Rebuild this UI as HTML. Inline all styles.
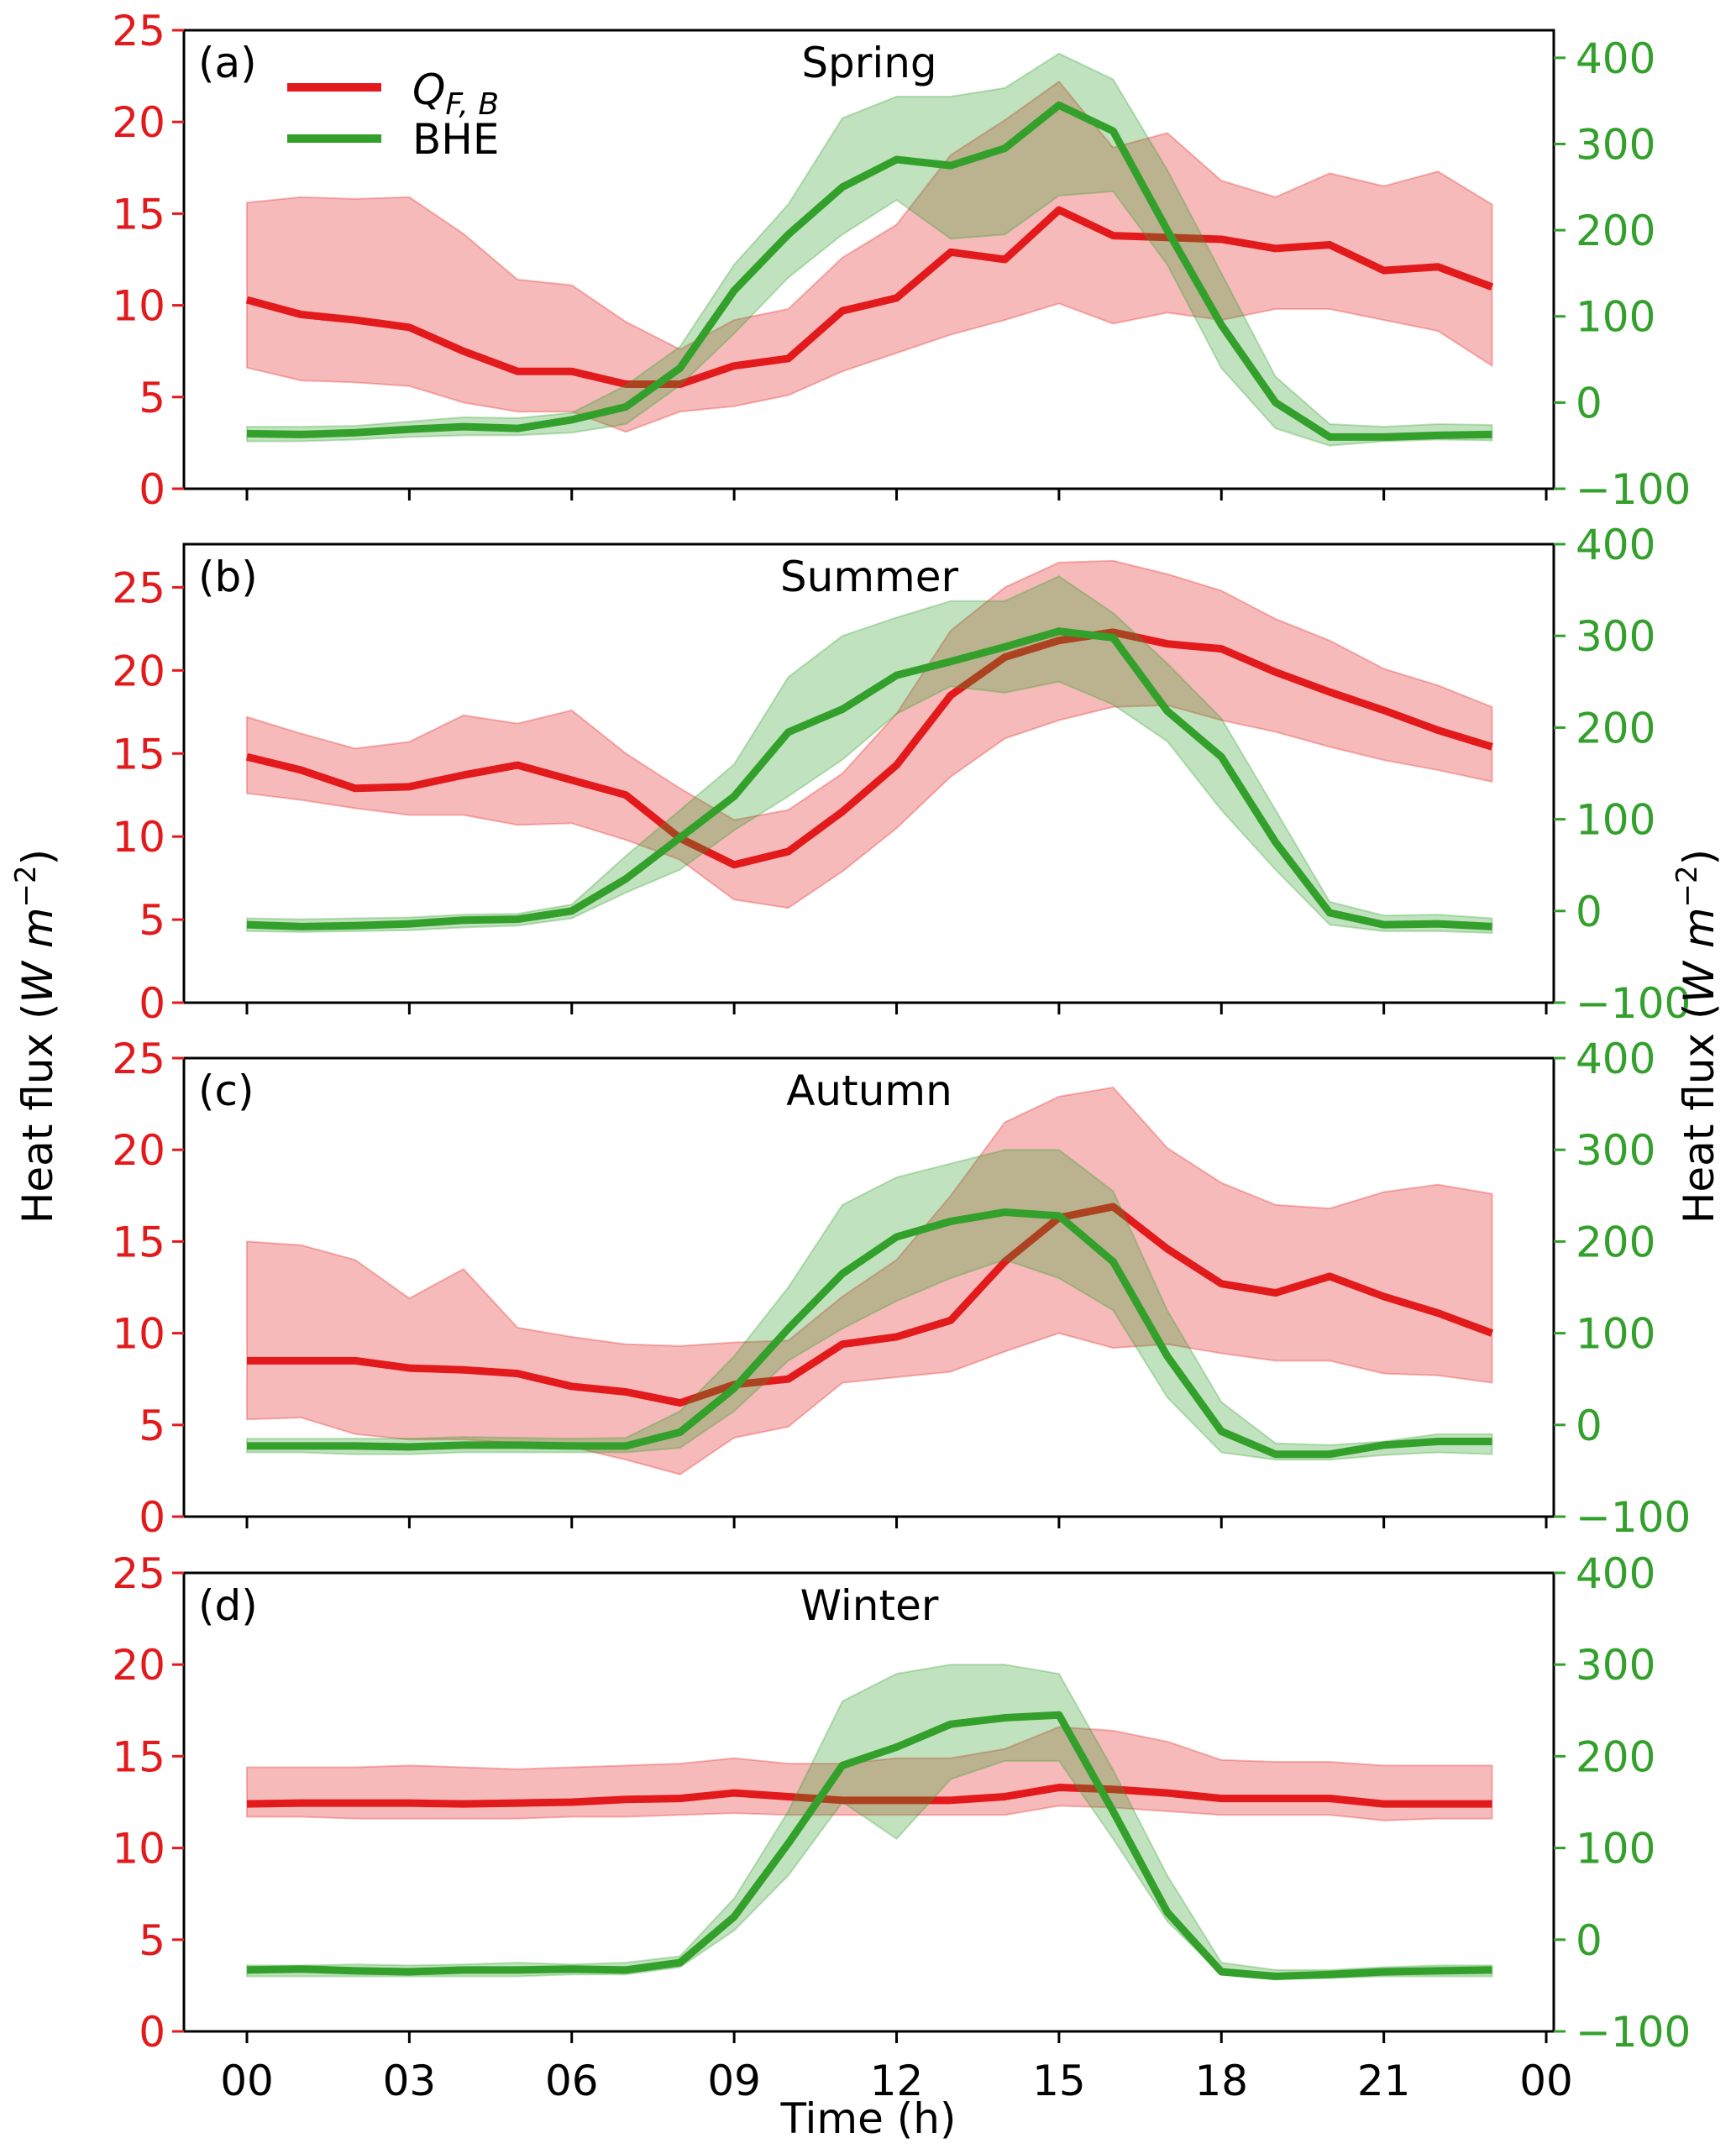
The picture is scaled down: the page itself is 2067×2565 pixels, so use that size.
<!DOCTYPE html>
<html><head><meta charset="utf-8"><style>
html,body{margin:0;padding:0;background:#fff}
svg{display:block;font-family:"DejaVu Sans","Liberation Sans",sans-serif}
</style></head><body>
<svg id="chart" width="2067" height="2565" viewBox="0 0 2067 2565" xmlns="http://www.w3.org/2000/svg">
<g id="plots"></g>
<text x="1034" y="2540" font-size="50" text-anchor="middle">Time (h)</text>
<text transform="translate(62,1234) rotate(-90)" font-size="50" text-anchor="middle">Heat flux (<tspan font-style="italic">W m</tspan><tspan font-size="34" dy="-20">−2</tspan><tspan dy="20">)</tspan></text>
<text transform="translate(2040,1234) rotate(-90)" font-size="50" text-anchor="middle">Heat flux (<tspan font-style="italic">W m</tspan><tspan font-size="34" dy="-20">−2</tspan><tspan dy="20">)</tspan></text>
</svg>
<script>
const hours = [0,1,2,3,4,5,6,7,8,9,10,11,12,13,14,15,16,17,18,19,20,21,22,23];
const seasons = ["Spring","Summer","Autumn","Winter"];
const panelLetters = ["(a)","(b)","(c)","(d)"];
const leftMax = [25,27.6,25,25];
const rightMax = [432,400,400,400];
const leftTicks = [0,5,10,15,20,25];
const rightTicks = [-100,0,100,200,300,400];
const xTickLabels = ["00","03","06","09","12","15","18","21","00"];

const qfMean = [
[10.3,9.5,9.2,8.8,7.5,6.4,6.4,5.7,5.7,6.7,7.1,9.7,10.4,12.9,12.5,15.2,13.8,13.7,13.6,13.1,13.3,11.9,12.1,11.0],
[14.8,14.0,12.9,13.0,13.7,14.3,13.4,12.5,9.9,8.3,9.1,11.5,14.3,18.5,20.8,21.8,22.3,21.6,21.3,19.9,18.7,17.6,16.4,15.4],
[8.5,8.5,8.5,8.1,8.0,7.8,7.1,6.8,6.2,7.2,7.5,9.4,9.8,10.7,13.9,16.3,16.9,14.6,12.7,12.2,13.1,12.0,11.1,10.0],
[12.4,12.45,12.45,12.45,12.4,12.45,12.5,12.65,12.7,13.0,12.8,12.6,12.6,12.6,12.8,13.3,13.2,13.0,12.7,12.7,12.7,12.4,12.4,12.4]];
const qfUpper = [
[15.6,15.9,15.8,15.9,13.9,11.4,11.1,9.1,7.6,9.2,9.8,12.6,14.4,18.2,20.1,22.2,18.6,19.4,16.8,15.9,17.2,16.5,17.3,15.5],
[17.2,16.2,15.3,15.7,17.3,16.8,17.6,15.0,12.9,11.0,11.6,13.8,17.4,22.4,25.0,26.5,26.6,25.8,24.8,23.1,21.8,20.1,19.1,17.8],
[15.0,14.8,14.0,11.9,13.5,10.3,9.8,9.4,9.3,9.5,9.6,12.0,14.0,17.5,21.5,22.9,23.4,20.1,18.2,17.0,16.8,17.7,18.1,17.6],
[14.4,14.4,14.4,14.5,14.4,14.3,14.4,14.5,14.6,14.9,14.6,14.6,14.9,14.9,15.4,16.6,16.4,15.8,14.8,14.7,14.7,14.5,14.5,14.5]];
const qfLower = [
[6.6,5.9,5.8,5.6,4.7,4.2,4.2,3.1,4.2,4.5,5.1,6.4,7.4,8.4,9.2,10.1,9.0,9.6,9.2,9.8,9.8,9.2,8.6,6.7],
[12.6,12.2,11.7,11.3,11.3,10.7,10.8,9.8,8.6,6.2,5.7,7.9,10.5,13.6,15.9,17.0,17.8,17.9,17.0,16.3,15.4,14.6,14.0,13.3],
[5.3,5.4,4.5,4.2,4.2,4.0,3.8,3.1,2.3,4.3,4.9,7.3,7.6,7.9,9.0,10.0,9.2,9.4,8.9,8.5,8.5,7.8,7.7,7.3],
[11.7,11.7,11.6,11.6,11.6,11.6,11.7,11.7,11.8,11.9,11.8,11.8,11.8,11.8,11.8,12.3,12.2,12.0,11.8,11.8,11.8,11.5,11.6,11.6]];
const bheMean = [
[-36,-37,-35,-31,-28,-30,-20,-5,40,130,195,250,282,275,295,345,315,200,90,0,-40,-40,-38,-37],
[-15,-17,-16,-14,-10,-9,0,35,80,125,195,220,257,272,288,305,298,218,168,75,-2,-15,-14,-17],
[-23,-23,-23,-24,-22,-22,-23,-23,-8,40,105,165,205,222,232,228,178,75,-7,-32,-32,-22,-18,-18],
[-33,-32,-34,-35,-33,-33,-32,-33,-25,25,105,190,210,235,242,245,140,30,-35,-40,-38,-35,-34,-33]];
const bheUpper = [
[-28,-28,-27,-22,-17,-18,-12,20,65,160,230,330,355,355,365,405,375,270,150,30,-25,-28,-25,-26],
[-8,-9,-8,-7,-4,-3,7,60,110,160,255,300,320,338,338,365,325,270,210,110,10,-5,-4,-8],
[-15,-15,-15,-15,-13,-14,-15,-14,15,75,150,240,270,285,300,300,255,125,25,-20,-22,-18,-10,-10],
[-28,-28,-27,-28,-27,-25,-27,-25,-18,45,140,260,290,300,300,290,185,70,-25,-33,-33,-30,-28,-28]];
const bheLower = [
[-45,-45,-43,-40,-38,-38,-35,-25,20,80,145,195,235,190,195,240,245,160,40,-30,-50,-45,-43,-44],
[-22,-23,-22,-21,-18,-16,-8,20,45,88,125,165,215,245,238,250,225,185,110,45,-15,-22,-22,-24],
[-30,-30,-32,-32,-30,-30,-30,-30,-25,15,70,105,135,160,180,160,125,30,-30,-38,-38,-33,-30,-32],
[-40,-40,-40,-40,-40,-40,-38,-38,-30,10,70,150,110,175,195,195,110,20,-38,-42,-42,-40,-40,-40]];

const NS="http://www.w3.org/2000/svg";
const RED="#e31a1c", GREEN="#33a02c";
const L=219, R=1850, H=546;
const tops=[36,648,1260,1873];
const xs = h => 294 + h*64.46;
function mk(tag, attrs, parent){const e=document.createElementNS(NS,tag);for(const k in attrs)e.setAttribute(k,attrs[k]);parent.appendChild(e);return e;}
const root=document.getElementById('plots');
for(let p=0;p<4;p++){
  const top=tops[p], bot=top+H;
  const yl = v => bot - v/leftMax[p]*H;
  const yr = v => bot - (v+100)/(rightMax[p]+100)*H;
  const g=mk('g',{},root);
  
  
  const band=(up,lo,f)=>{let d='M'+hours.map(h=>xs(h)+','+f(up[h])).join(' L');d+=' L'+hours.slice().reverse().map(h=>xs(h)+','+f(lo[h])).join(' L')+'Z';return d;};
  const line=(arr,f)=>'M'+hours.map(h=>xs(h)+','+f(arr[h])).join(' L');
  const rb=mk('path',{d:band(qfUpper[p],qfLower[p],yl),fill:RED,'fill-opacity':0.3,stroke:RED,'stroke-opacity':0.3,'stroke-width':2},g);
  
  
  const rl=mk('path',{d:line(qfMean[p],yl),fill:'none',stroke:RED,'stroke-width':9,'stroke-linejoin':'round'},g);
  
  
  const gb=mk('path',{d:band(bheUpper[p],bheLower[p],yr),fill:GREEN,'fill-opacity':0.3,stroke:GREEN,'stroke-opacity':0.3,'stroke-width':2},g);
  
  
  const gl=mk('path',{d:line(bheMean[p],yr),fill:'none',stroke:GREEN,'stroke-width':9,'stroke-linejoin':'round'},g);
  
  
  const fr=mk('rect',{x:L,y:top,width:R-L,height:H,fill:'none',stroke:'#000','stroke-width':3},g);
  
  
  for(const v of leftTicks){const y=yl(v);
    mk('line',{x1:L-14,x2:L,y1:y,y2:y,stroke:RED,'stroke-width':3},g);
    const t=mk('text',{x:L-22,y:y+18,'font-size':50,fill:RED,'text-anchor':'end'},g);t.textContent=v;
    
    }
  for(const v of rightTicks){const y=yr(v);
    mk('line',{x1:R,x2:R+14,y1:y,y2:y,stroke:GREEN,'stroke-width':3},g);
    const t=mk('text',{x:R+26,y:y+18,'font-size':50,fill:GREEN},g);t.textContent=(v<0?'−':'')+Math.abs(v);
    
    }
  xTickLabels.forEach((lab,i)=>{const x=xs(i*3);
    mk('line',{x1:x,x2:x,y1:bot,y2:bot+14,stroke:'#000','stroke-width':3},g);
    if(p===3){const t=mk('text',{x:x,y:bot+76,'font-size':50,'text-anchor':'middle'},g);t.textContent=lab;
      
      }});
  const pl=mk('text',{x:236,y:top+56,'font-size':50},g);pl.textContent=panelLetters[p];
  
  
  const st=mk('text',{x:1035,y:top+56,'font-size':50,'text-anchor':'middle'},g);st.textContent=seasons[p];
  
  
  if(p===0){
    const lg=mk('g',{},g);
    
    
    mk('line',{x1:342,x2:454,y1:104,y2:104,stroke:RED,'stroke-width':10},lg);
    mk('line',{x1:342,x2:454,y1:165,y2:165,stroke:GREEN,'stroke-width':10},lg);
    const t1=mk('text',{x:491,y:124,'font-size':50,'font-style':'italic'},lg);
    t1.innerHTML='Q<tspan font-size="36" dy="12">F, B</tspan>';
    
    
    const t2=mk('text',{x:491,y:183,'font-size':50},lg);t2.textContent='BHE';
    
    
  }
}
</script>
</body></html>
